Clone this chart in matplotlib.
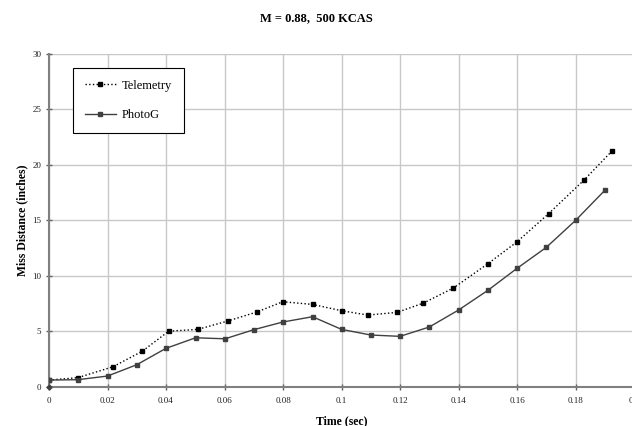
import numpy as np
import matplotlib.pyplot as plt

plt.rcParams['font.family'] = ['Liberation Serif', 'DejaVu Serif']

# telemetry samples (sec, inches)
tele_t = [0.0, 0.0098, 0.0219, 0.0319, 0.0409, 0.0509, 0.0611, 0.0710, 0.0799,
          0.0901, 0.1000, 0.1090, 0.1190, 0.1280, 0.1382, 0.1500, 0.1600,
          0.1708, 0.1828, 0.1925]
tele_d = [0.60, 0.81, 1.80, 3.20, 5.00, 5.17, 5.92, 6.73, 7.66,
          7.42, 6.85, 6.46, 6.70, 7.54, 8.89, 11.08, 13.06,
          15.60, 18.60, 21.26]

# photogrammetry samples
photo_t = [0.0, 0.0098, 0.020, 0.030, 0.040, 0.0501, 0.0602, 0.070, 0.0799,
           0.0901, 0.100, 0.110, 0.120, 0.130, 0.140, 0.150, 0.160,
           0.170, 0.180, 0.190]
photo_d = [0.60, 0.63, 0.96, 1.98, 3.46, 4.41, 4.32, 5.14, 5.83,
           6.31, 5.17, 4.66, 4.54, 5.38, 6.91, 8.68, 10.67,
           12.56, 14.99, 17.70]

origin_t = [0.0]
origin_d = [0.0]

fig = plt.figure(figsize=(6.32, 4.26), dpi=100)
ax = fig.add_axes([49/632, 39.3/426, 585/632, 332.7/426])

ax.plot(tele_t, tele_d, ':', color='black', lw=1.0, marker='s', ms=3.2,
        mfc='black', mec='black', label='Telemetry', zorder=4)
ax.plot(photo_t, photo_d, '-', color='#404040', lw=1.0, marker='s', ms=3.2,
        mfc='#404040', mec='#404040', label='PhotoG', zorder=4)
ax.plot(origin_t, origin_d, 'D', color='#404040', ms=2.5, zorder=5,
        clip_on=False)

ax.set_xlim(0, 0.2)
ax.set_ylim(0, 30)
ax.set_xticks(np.arange(0, 0.201, 0.02))
ax.set_xticklabels(['0', '0.02', '0.04', '0.06', '0.08', '0.1', '0.12',
                    '0.14', '0.16', '0.18', '0.2'])
ax.set_yticks(np.arange(0, 31, 5))
ax.grid(True, color='#c8c8c8', lw=1.0)
ax.set_axisbelow(True)

for s in ['top', 'right']:
    ax.spines[s].set_visible(False)
for s in ['left', 'bottom']:
    ax.spines[s].set_color('#808080')
    ax.spines[s].set_linewidth(1.5)

ax.tick_params(axis='both', direction='inout', length=5, width=1.0,
               color='#606060', labelsize=6.5, labelcolor='#222222')
ax.tick_params(axis='x', pad=5)
ax.tick_params(axis='y', pad=3)

ax.set_xlabel('Time (sec)', fontsize=8.5, fontweight='bold', labelpad=7)
ax.set_ylabel('Miss Distance (inches)', fontsize=8.5, fontweight='bold',
              labelpad=3)
fig.text(0.5, 1 - 18/426, 'M = 0.88,  500 KCAS', ha='center', va='center',
         fontsize=9, fontweight='bold')

leg = ax.legend(loc='upper left', bbox_to_anchor=(0.041, 0.958),
                fancybox=False, edgecolor='black', framealpha=1,
                fontsize=9, handlelength=2.5, labelspacing=1.4,
                borderpad=0.95, borderaxespad=0, handletextpad=0.45,
                markerscale=0.9)
leg.get_frame().set_linewidth(0.8)

fig.savefig('out.png', dpi=100)
